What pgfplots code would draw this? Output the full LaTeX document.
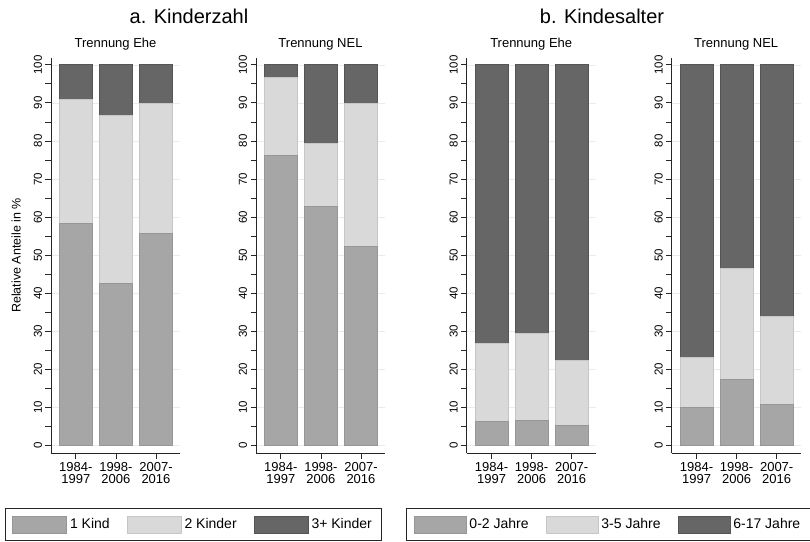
\documentclass[border=0pt]{standalone}
\usepackage{fontspec}
\setmainfont{Liberation Sans}
\usepackage{pgfplots}
\usepackage{pgfplotstable}
\pgfplotsset{compat=1.18}

\definecolor{c1}{HTML}{A6A6A6}
\definecolor{c1d}{HTML}{969696}
\definecolor{c2}{HTML}{D9D9D9}
\definecolor{c2d}{HTML}{C6C6C6}
\definecolor{c3}{HTML}{666666}
\definecolor{c3d}{HTML}{555555}

% segment sizes per period (stacked to 100)
\pgfplotstableread{
x s1 s2 s3
1 58.4 32.6 9.0
2 42.6 44.1 13.3
3 55.8 34.0 10.2
}\ehezahl
\pgfplotstableread{
x s1 s2 s3
1 76.3 20.4 3.3
2 62.8 16.5 20.7
3 52.3 37.6 10.1
}\nelzahl
\pgfplotstableread{
x s1 s2 s3
1 6.2 20.6 73.2
2 6.5 22.8 70.7
3 5.2 17.2 77.6
}\ehealter
\pgfplotstableread{
x s1 s2 s3
1 9.9 13.3 76.8
2 17.3 29.1 53.6
3 10.7 23.2 66.1
}\nelalter

\pgfplotsset{
  panel/.style={
    scale only axis, width=129bp, height=395bp, anchor=south west,
    ybar stacked, bar width=33bp,
    xmin=0.38, xmax=3.6, ymin=-2, ymax=101.8,
    axis lines*=left,
    axis line style={line width=0.8bp, black!85},
    xtick={1,2,3},
    xticklabels={{1984-\\1997},{1998-\\2006},{2007-\\2016}},
    xticklabel style={align=center, font=\fontsize{13bp}{12.5bp}\selectfont},
    ytick={0,10,...,100}, minor ytick={5,15,...,95},
    yticklabel style={rotate=90, anchor=south, font=\fontsize{11.5bp}{12bp}\selectfont},
    tick align=outside, major tick length=5.5bp, minor tick length=5.5bp,
    tick style={black!85, line width=0.8bp},
    ymajorgrids, grid style={black!8, line width=0.6bp},
    title style={at={(0.5,1)}, anchor=base, yshift=5bp, font=\fontsize{13bp}{13bp}\selectfont},
    /pgf/number format/assume math mode=true,
    legend style={anchor=center, legend columns=3,
      draw=black!85, line width=0.8bp, inner xsep=7bp, inner ysep=7bp,
      font=\fontsize{14bp}{14bp}\selectfont,
      /tikz/every even column/.append style={column sep=14bp},
      nodes={inner xsep=3bp, inner ysep=0bp}, cells={anchor=west}},
  },
  patch/.style={legend image code/.code={\draw[##1] (0bp,-8.5bp) rectangle (#1,8.5bp);}},
  sa/.style={fill=c1, draw=c1d, line width=0.8bp, patch=#1},
  sb/.style={fill=c2, draw=c2d, line width=0.8bp, patch=#1},
  sc/.style={fill=c3, draw=c3d, line width=0.8bp, patch=#1},
  sa/.default=54bp, sb/.default=54bp, sc/.default=54bp,
}

\begin{document}
\begin{tikzpicture}
\useasboundingbox (0,0) rectangle (810bp,542bp);

\node[anchor=base, font=\fontsize{20bp}{20bp}\selectfont] at (189bp,518bp) {a. Kinderzahl};
\node[anchor=base, font=\fontsize{20bp}{20bp}\selectfont] at (602bp,518bp) {b. Kindesalter};

\begin{axis}[panel, at={(51bp,89bp)}, title={Trennung Ehe},
  ylabel={Relative Anteile in \%},
  ylabel style={at={(axis description cs:-0.271,0.5)}, anchor=center, font=\fontsize{12.5bp}{12.5bp}\selectfont},
  legend style={at={(1.105,-0.181)}},
  legend entries={1 Kind, 2 Kinder, 3+ Kinder}]
\addplot[sa] table[x=x, y=s1] {\ehezahl};
\addplot[sb] table[x=x, y=s2] {\ehezahl};
\addplot[sc] table[x=x, y=s3] {\ehezahl};
\end{axis}

\begin{axis}[panel, at={(256bp,89bp)}, title={Trennung NEL}]
\addplot[sa] table[x=x, y=s1] {\nelzahl};
\addplot[sb] table[x=x, y=s2] {\nelzahl};
\addplot[sc] table[x=x, y=s3] {\nelzahl};
\end{axis}

\begin{axis}[panel, at={(466.7bp,89bp)}, title={Trennung Ehe},
  legend style={at={(1.099,-0.181)}},
  legend entries={0-2 Jahre, 3-5 Jahre, 6-17 Jahre}]
\addplot[sa=52bp] table[x=x, y=s1] {\ehealter};
\addplot[sb=52bp] table[x=x, y=s2] {\ehealter};
\addplot[sc=52bp] table[x=x, y=s3] {\ehealter};
\end{axis}

\begin{axis}[panel, at={(671.7bp,89bp)}, title={Trennung NEL}]
\addplot[sa] table[x=x, y=s1] {\nelalter};
\addplot[sb] table[x=x, y=s2] {\nelalter};
\addplot[sc] table[x=x, y=s3] {\nelalter};
\end{axis}
\end{tikzpicture}
\end{document}
